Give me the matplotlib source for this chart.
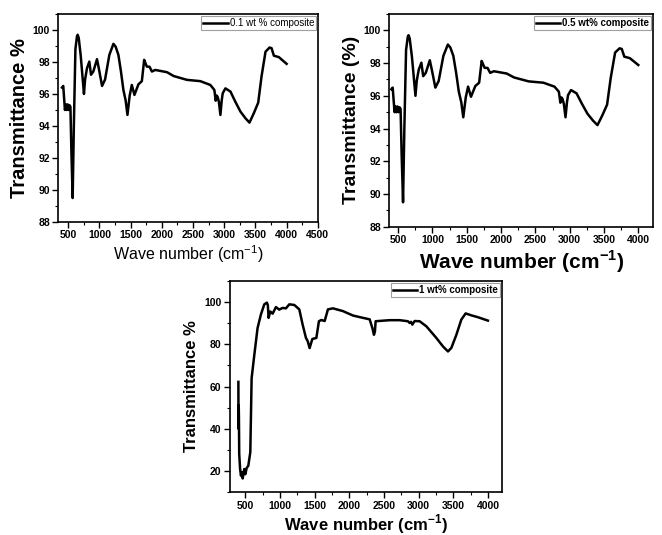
import matplotlib
matplotlib.use("Agg")
import matplotlib.pyplot as plt
from matplotlib.ticker import MultipleLocator, AutoMinorLocator

plt.rcParams['font.family'] = ['Liberation Sans', 'DejaVu Sans']
plt.rcParams['mathtext.fontset'] = 'custom'
plt.rcParams['mathtext.rm'] = 'Liberation Sans'
plt.rcParams['mathtext.bf'] = 'Liberation Sans:bold'

# FTIR spectrum, 0.1 / 0.5 wt% composite (same trace in both top panels)
wn_low = [400, 420, 447, 460, 475, 490, 506, 520, 535, 550, 571, 590, 615, 640, 651,
          668, 700, 752, 770, 800, 838, 865, 902, 961, 990, 1042, 1090, 1159, 1224,
          1260, 1304, 1345, 1384, 1420, 1449, 1485, 1519, 1561, 1625, 1680, 1717,
          1740, 1760, 1803, 1841, 1895, 2082, 2189, 2403, 2617, 2778, 2842, 2864,
          2880, 2896, 2915, 2939, 2960, 2976, 3019, 3100, 3180, 3260, 3341, 3405,
          3475, 3545, 3598, 3662, 3727, 3759, 3796, 3876, 4000]
t_low = [96.4, 96.5, 95.0, 95.35, 95.0, 95.35, 95.0, 95.3, 95.2, 92.5, 89.5, 94.0,
         98.8, 99.6, 99.7, 99.5, 98.4, 96.0, 96.9, 97.6, 98.02, 97.2, 97.4, 98.17,
         97.6, 96.5, 96.9, 98.44, 99.13, 98.95, 98.44, 97.4, 96.25, 95.6, 94.69,
         95.9, 96.56, 95.94, 96.6, 96.8, 98.13, 97.9, 97.71, 97.7, 97.4, 97.5, 97.36,
         97.12, 96.88, 96.8, 96.56, 96.25, 95.58, 95.9, 95.8, 95.5, 94.69, 95.6,
         96.04, 96.35, 96.15, 95.5, 94.9, 94.48, 94.21, 94.8, 95.46, 97.09, 98.64,
         98.9, 98.86, 98.39, 98.3, 97.88]

# FTIR spectrum, 1 wt% composite
wn_high = [400, 402, 405, 408, 412, 425, 437, 450, 462, 475, 485, 500, 520, 543,
           572, 591, 630, 677, 725, 774, 812, 825, 836, 860, 894, 942, 990, 1038,
           1086, 1135, 1207, 1279, 1327, 1375, 1400, 1428, 1467, 1525, 1562, 1597,
           1645, 1692, 1764, 1908, 2053, 2197, 2294, 2333, 2356, 2370, 2380, 2582,
           2727, 2846, 2870, 2890, 2910, 2943, 3015, 3112, 3256, 3351, 3424, 3473,
           3545, 3617, 3679, 3760, 3856, 4000]
t_high = [62.2, 40.0, 51.2, 45.0, 28.1, 21.0, 17.8, 19.5, 16.5, 19.0, 21.0, 18.5,
          21.5, 22.5, 28.9, 63.9, 75.0, 87.7, 94.1, 98.9, 99.7, 98.5, 92.5, 95.5,
          94.5, 97.6, 96.4, 97.2, 97.0, 98.9, 98.6, 96.5, 89.3, 83.0, 81.5, 78.2,
          82.5, 83.0, 90.9, 91.5, 91.0, 96.5, 97.0, 95.7, 93.6, 92.5, 91.8, 87.7,
          84.5, 86.0, 90.9, 91.4, 91.4, 90.9, 90.1, 90.6, 89.3, 91.0, 90.9, 88.5,
          83.0, 79.0, 76.6, 78.3, 84.5, 91.7, 94.6, 93.7, 92.8, 91.2]

labels = ["0.1 wt % composite", "0.5 wt% composite", "1 wt% composite"]

fig = plt.figure(figsize=(6.62, 5.35), dpi=100)
ax1 = fig.add_axes([0.088, 0.585, 0.393, 0.389])
ax2 = fig.add_axes([0.588, 0.576, 0.399, 0.398])
ax3 = fig.add_axes([0.347, 0.080, 0.412, 0.395])


def style(ax, label_bold):
    for s in ax.spines.values():
        s.set_linewidth(1.2)
    ax.xaxis.set_minor_locator(AutoMinorLocator(2))
    ax.yaxis.set_minor_locator(AutoMinorLocator(2))
    ax.tick_params(which='major', direction='out', length=4, width=1,
                   labelsize=7.5, pad=2)
    ax.tick_params(which='minor', direction='out', length=2, width=0.8)
    for lab in ax.get_xticklabels() + ax.get_yticklabels():
        lab.set_fontweight('bold')
    leg = ax.legend(loc='upper right', fontsize=7, frameon=True, fancybox=False,
                    handlelength=2.5, borderpad=0.2, borderaxespad=0.25,
                    handletextpad=0.2)
    leg.get_frame().set_edgecolor('#888888')
    leg.get_frame().set_linewidth(0.8)
    for t in leg.get_texts():
        t.set_fontweight('bold' if label_bold else 'normal')


# panel 1
ax1.plot(wn_low, t_low, color='black', lw=1.8, label=labels[0])
ax1.set_xlim(340, 4510)
ax1.set_ylim(88, 101)
ax1.xaxis.set_major_locator(MultipleLocator(500))
ax1.yaxis.set_major_locator(MultipleLocator(2))
ax1.set_ylabel("Transmittance %", fontsize=14.5, fontweight='bold', labelpad=3)
ax1.set_xlabel(r"Wave number (cm$^{\mathrm{-1}}$)", fontsize=11.5, labelpad=2)
style(ax1, False)

# panel 2
ax2.plot(wn_low, t_low, color='black', lw=1.8, label=labels[1])
ax2.set_xlim(370, 4220)
ax2.set_ylim(88, 101)
ax2.xaxis.set_major_locator(MultipleLocator(500))
ax2.yaxis.set_major_locator(MultipleLocator(2))
ax2.set_ylabel("Transmittance (%)", fontsize=14, fontweight='bold', labelpad=3)
ax2.set_xlabel(r"Wave number (cm$^{\mathbf{-1}}$)", fontsize=15, fontweight='bold',
               labelpad=2)
style(ax2, True)

# panel 3
ax3.plot(wn_high, t_high, color='black', lw=1.8, label=labels[2])
ax3.set_xlim(275, 4210)
ax3.set_ylim(10, 110)
ax3.xaxis.set_major_locator(MultipleLocator(500))
ax3.yaxis.set_major_locator(MultipleLocator(20))
ax3.set_ylabel("Transmittance %", fontsize=12, fontweight='bold', labelpad=4)
ax3.set_xlabel(r"Wave number (cm$^{\mathbf{-1}}$)", fontsize=12, fontweight='bold',
               labelpad=1)
style(ax3, True)

fig.savefig("out.png", dpi=100)
